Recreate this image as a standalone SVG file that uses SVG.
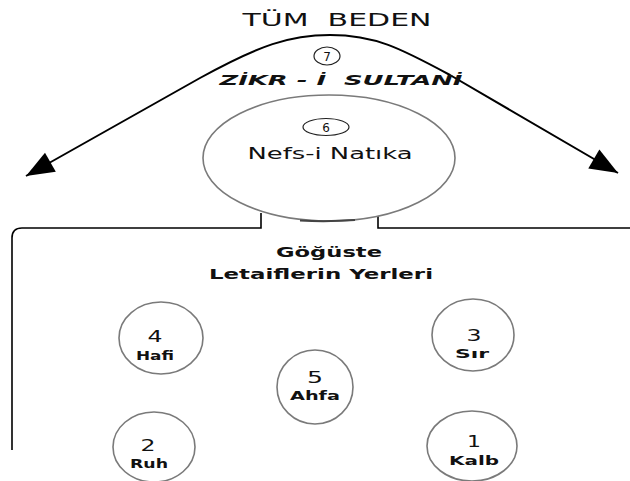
<svg xmlns="http://www.w3.org/2000/svg" width="630" height="481" viewBox="0 0 630 481">
<style>
  text { font-family: "DejaVu Sans", "Liberation Sans", sans-serif; fill: #111; text-anchor: middle; }
  .title { font-size: 18px; }
  .zikr { font-size: 14px; font-style: italic; font-weight: bold; }
  .nefs { font-size: 16px; }
  .head { font-size: 14px; font-weight: bold; }
  .num { font-size: 15px; }
  .lbl { font-size: 12px; font-weight: bold; }
  .small { font-size: 12px; }
  .node { fill: #fff; stroke: #7a7a7a; stroke-width: 1.6; }
  .wire { fill: none; stroke: #000; stroke-width: 2; }
  .box { fill: none; stroke: #000; stroke-width: 1.6; }
</style>
<defs>
  <marker id="ah" viewBox="-30 -15 32 30" markerWidth="32" markerHeight="30" markerUnits="userSpaceOnUse" refX="0" refY="0" orient="auto-start-reverse">
    <path d="M0,0 L-28,-11 L-28,11 Z" fill="#000"/>
  </marker>
</defs>
<rect width="630" height="481" fill="#fff"/>

<g id="title">
  <text class="title" x="337" y="26" textLength="189" lengthAdjust="spacingAndGlyphs" xml:space="preserve">TÜM  BEDEN</text>
</g>

<g id="connectors">
  <path class="wire" d="M 26,176 L 200,78 C 260,45 290,35 330,35 C 375,35 400,48 450,75 L 618,173" marker-start="url(#ah)" marker-end="url(#ah)"/>
</g>

<g id="zikr">
  <ellipse cx="327" cy="56" rx="13" ry="9" fill="none" stroke="#222" stroke-width="1.2"/>
  <text class="small" x="327" y="61">7</text>
  <text class="zikr" x="341" y="85" textLength="243" lengthAdjust="spacingAndGlyphs" xml:space="preserve">ZİKR - İ  SULTANİ</text>
</g>

<g id="chest-box">
  <path class="box" d="M 261,213 L 261,228 L 22,228 Q 12,228 12,238 L 12,450"/>
  <path class="box" d="M 378,215 L 378,228 L 630,228"/>
</g>

<g id="nefs">
  <ellipse class="node" cx="329" cy="158" rx="126" ry="63"/>
  <path d="M 300,220.5 Q 327,222 355,220" fill="none" stroke="#444" stroke-width="2"/>
  <ellipse cx="326" cy="127" rx="23" ry="8.5" fill="none" stroke="#222" stroke-width="1.2"/>
  <text class="small" x="326" y="131.5">6</text>
  <text class="nefs" x="330" y="159" textLength="165" lengthAdjust="spacingAndGlyphs">Nefs-i Natıka</text>
</g>

<g id="heading">
  <text class="head" x="329" y="257" textLength="106" lengthAdjust="spacingAndGlyphs">Göğüste</text>
  <text class="head" x="321" y="279" textLength="224" lengthAdjust="spacingAndGlyphs">Letaiflerin Yerleri</text>
</g>

<g id="hafi">
  <ellipse class="node" cx="161" cy="338" rx="42" ry="36"/>
  <text class="num" x="155" y="342" textLength="15" lengthAdjust="spacingAndGlyphs">4</text>
  <text class="lbl" x="155" y="360" textLength="38" lengthAdjust="spacingAndGlyphs">Hafi</text>
</g>

<g id="sir">
  <ellipse class="node" cx="473" cy="335" rx="41" ry="36"/>
  <text class="num" x="474" y="341" textLength="15" lengthAdjust="spacingAndGlyphs">3</text>
  <text class="lbl" x="472" y="358" textLength="34" lengthAdjust="spacingAndGlyphs">Sır</text>
</g>

<g id="ahfa">
  <ellipse class="node" cx="315" cy="387" rx="38" ry="37"/>
  <text class="num" x="315" y="383" textLength="16" lengthAdjust="spacingAndGlyphs">5</text>
  <text class="lbl" x="315" y="400" textLength="50" lengthAdjust="spacingAndGlyphs">Ahfa</text>
</g>

<g id="ruh">
  <ellipse class="node" cx="154" cy="447" rx="41" ry="35"/>
  <text class="num" x="148" y="451" textLength="15" lengthAdjust="spacingAndGlyphs">2</text>
  <text class="lbl" x="149" y="468" textLength="38" lengthAdjust="spacingAndGlyphs">Ruh</text>
</g>

<g id="kalb">
  <ellipse class="node" cx="472" cy="446" rx="45" ry="35"/>
  <text class="num" x="474" y="447" textLength="14" lengthAdjust="spacingAndGlyphs">1</text>
  <text class="lbl" x="474" y="465" textLength="50" lengthAdjust="spacingAndGlyphs">Kalb</text>
</g>
</svg>
